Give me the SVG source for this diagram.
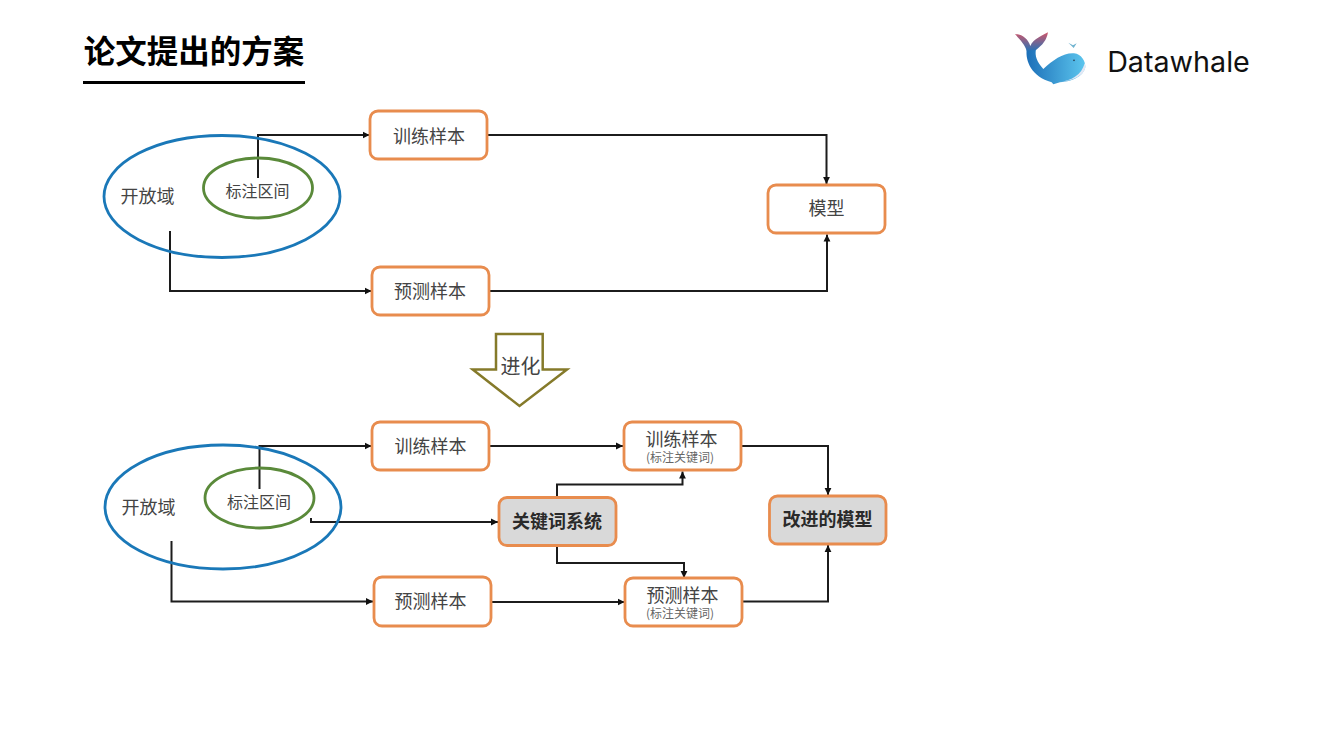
<svg xmlns="http://www.w3.org/2000/svg" width="1334" height="750" viewBox="0 0 1334 750">
<style>
text{font-family:"Noto Sans CJK SC","Liberation Sans",sans-serif;text-anchor:middle;fill:#444}
.t{font-size:18px}
.s{font-size:12px;fill:#666}
.m{font-size:16px}
.b{font-size:18px;font-weight:700;fill:#2a2a2a}
.box{fill:#fff;stroke:#e88c4e;stroke-width:2.8}
.gbox{fill:#d9d9d9;stroke:#e88c4e;stroke-width:2.8}
.blue{fill:none;stroke:#1a78b8;stroke-width:2.8}
.green{fill:none;stroke:#5a8a3a;stroke-width:2.8}
.c{fill:none;stroke:#1c1c1c;stroke-width:2;marker-end:url(#a)}
</style>
<defs>
<marker id="a" markerUnits="userSpaceOnUse" markerWidth="8" markerHeight="8" refX="7" refY="4" orient="auto"><path d="M0 .6L7 4L0 7.400z" fill="#111"/></marker>
<linearGradient id="wb" x1="0" y1="0" x2="1" y2="0"><stop offset="0" stop-color="#1c6fb8"/><stop offset="1" stop-color="#5cc6ee"/></linearGradient>
<linearGradient id="wt" x1="0" y1="1" x2="0" y2="0"><stop offset="0" stop-color="#2a72b5"/><stop offset="1" stop-color="#d0566a"/></linearGradient>
</defs>
<rect width="1334" height="750" fill="#fff"/>
<g id="title">
<text x="194" y="63" style="font-size:31.500px;font-weight:700;fill:#000">论文提出的方案</text>
<rect x="83" y="81" width="222" height="3" fill="#000"/>
</g>
<g id="logo">
<g transform="translate(1000 20) scale(.3333)">
<path d="M80 88C76 125 95 170 155 187L160 193L180 187C215 185 250 170 256 142C257 125 245 102 222 100C190 98 160 120 130 147C110 125 104 108 108 88Z" fill="url(#wb)"/>
<path d="M45 42C70 44 84 58 91 78C100 58 120 50 144 37C140 60 128 75 108 90L80 92C74 72 60 60 45 42Z" fill="url(#wt)"/>
<path d="M175 187C215 183 245 165 254 130C264 155 235 182 175 187Z" fill="#e4e8f4"/>
<circle cx="222" cy="121" r="2.500" fill="#234"/>
<path d="M205 68L219 76L230 70L221 84Z" fill="#6fb3cf"/>
</g>
<text x="1178.500" y="72" style="font-family:Inter,'Liberation Sans',sans-serif;font-size:28.700px;fill:#111">Datawhale</text>
</g>
<g id="connectors">
<path class="c" d="M258 178V135H369.500"/>
<path class="c" d="M170 231V291H371.500"/>
<path class="c" d="M487 135H826.500V184"/>
<path class="c" d="M489 291H827V234.500"/>
<path class="c" d="M259.500 489V446H371.500"/>
<path class="c" d="M311 518V522H498"/>
<path class="c" d="M171.500 541V601.500H373"/>
<path class="c" d="M489 446H623"/>
<path class="c" d="M491 602H624.500"/>
<path class="c" d="M557 497V484.500H682.500V471.500"/>
<path class="c" d="M557 546V563H684V578"/>
<path class="c" d="M741 446H828V495"/>
<path class="c" d="M742 601.500H828V545"/>
</g>
<g id="open-1"><ellipse class="blue" cx="222" cy="196.500" rx="118" ry="61"/><text class="t" x="147.500" y="203">开放域</text></g>
<g id="range-1"><ellipse class="green" cx="258" cy="188" rx="54.500" ry="30"/><text class="m" x="257.500" y="197">标注区间</text></g>
<g id="train-1"><rect class="box" x="370" y="111" width="117" height="48" rx="8"/><text class="t" x="429" y="142.500">训练样本</text></g>
<g id="pred-1"><rect class="box" x="372" y="267" width="117" height="48" rx="8"/><text class="t" x="430" y="297.500">预测样本</text></g>
<g id="model-1"><rect class="box" x="768" y="185" width="117" height="48" rx="8"/><text class="t" x="826.500" y="215">模型</text></g>
<g id="evolve">
<path d="M496 334H542.700V369.500H567L519.500 406L472.700 369.500H496Z" fill="#fff" stroke="#857a2a" stroke-width="2.500"/>
<text x="520.500" y="373.500" style="font-size:20px">进化</text>
</g>
<g id="open-2"><ellipse class="blue" cx="223" cy="507" rx="118" ry="62"/><text class="t" x="148.500" y="514">开放域</text></g>
<g id="range-2"><ellipse class="green" cx="259.500" cy="498" rx="54.500" ry="30"/><text class="m" x="259" y="508">标注区间</text></g>
<g id="train-2"><rect class="box" x="372" y="422" width="117" height="48" rx="8"/><text class="t" x="430.500" y="453">训练样本</text></g>
<g id="pred-2"><rect class="box" x="374" y="577" width="117" height="49" rx="8"/><text class="t" x="430.500" y="608">预测样本</text></g>
<g id="train-3"><rect class="box" x="624" y="422" width="117" height="48" rx="8"/><text class="t" x="681.500" y="445.500">训练样本</text><text class="s" x="680" y="462">(标注关键词)</text></g>
<g id="pred-3"><rect class="box" x="625" y="578" width="117" height="48" rx="8"/><text class="t" x="682.500" y="601.500">预测样本</text><text class="s" x="680" y="618">(标注关键词)</text></g>
<g id="keyword"><rect class="gbox" x="499" y="497.500" width="117" height="48" rx="8"/><text class="b" x="557" y="528">关键词系统</text></g>
<g id="model-2"><rect class="gbox" x="769.500" y="496" width="116.500" height="48" rx="8"/><text class="b" x="827.500" y="526">改进的模型</text></g>
</svg>
